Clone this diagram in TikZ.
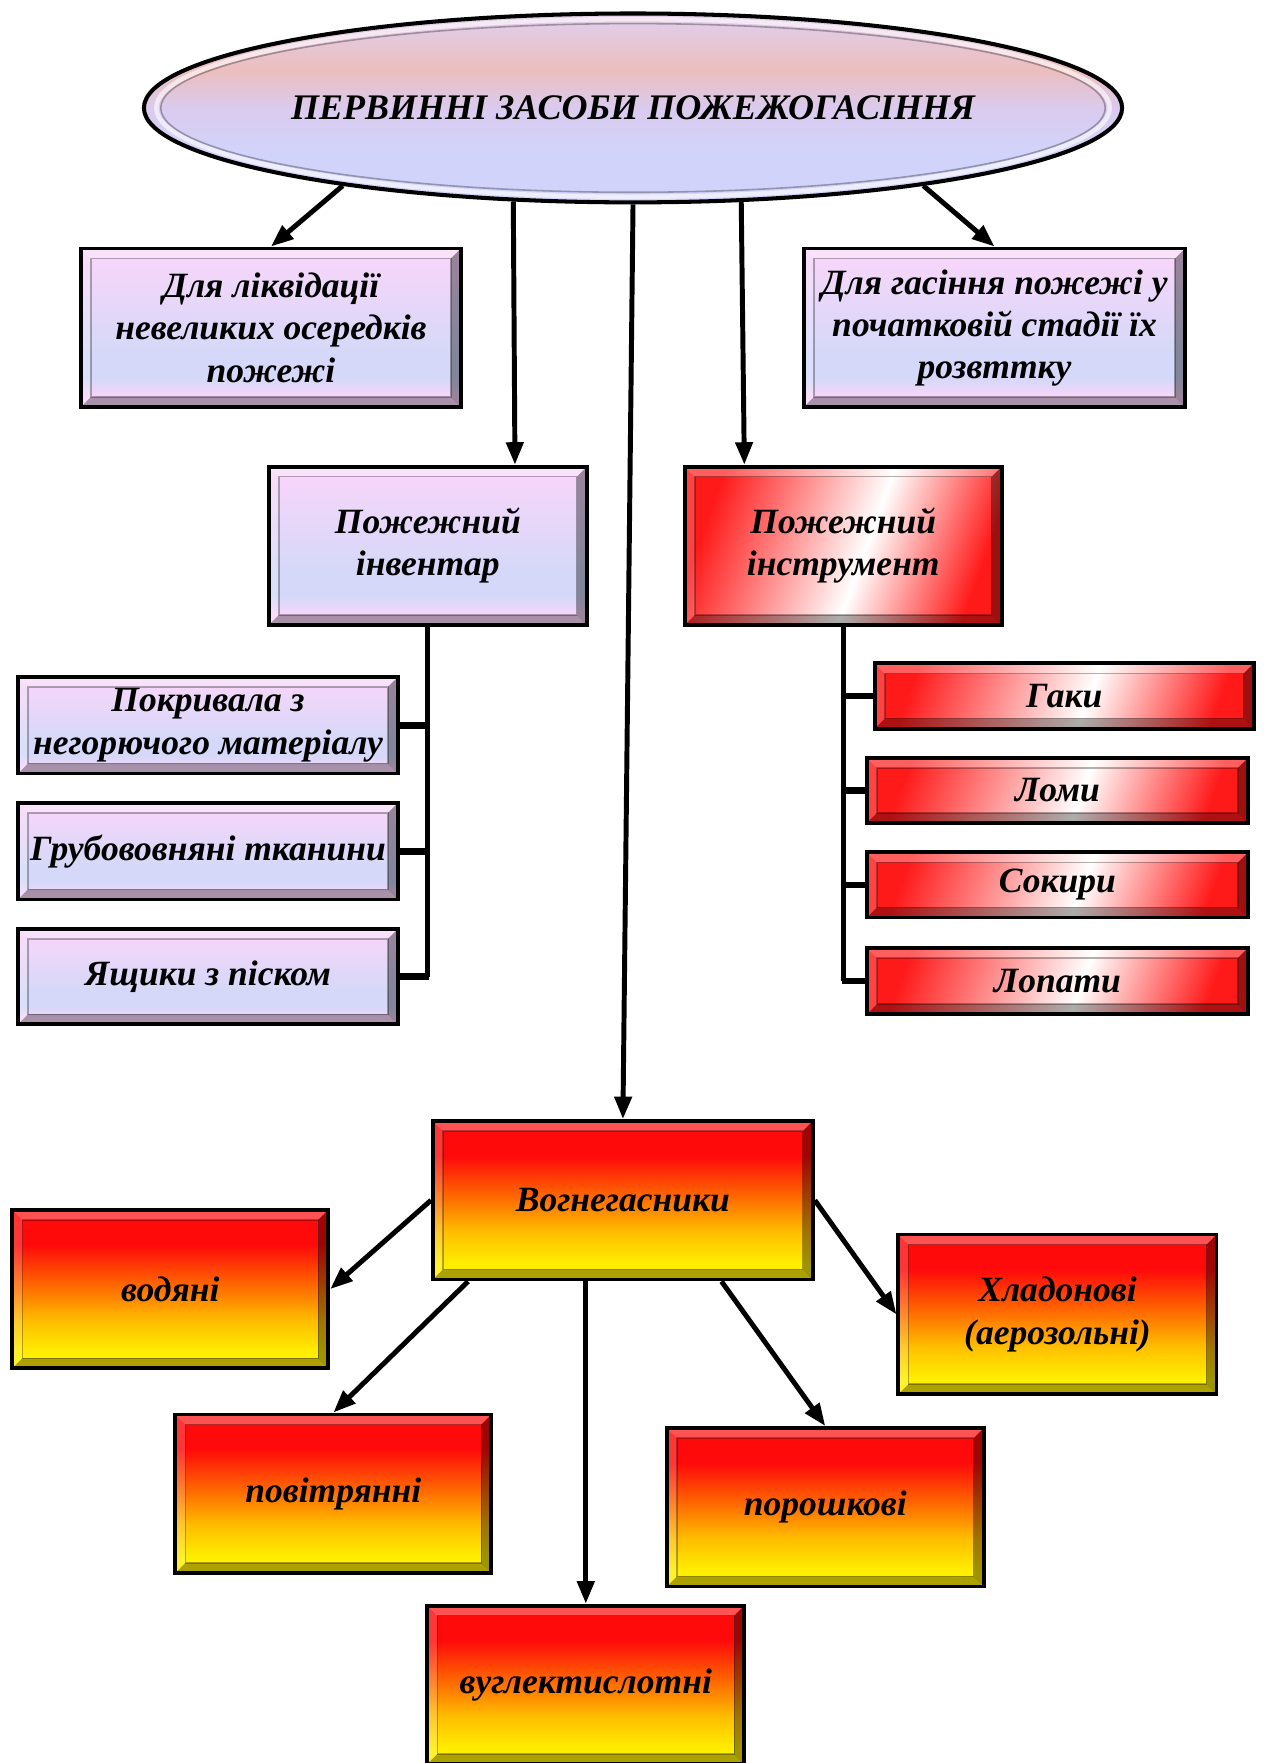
\documentclass[tikz,border=0pt]{standalone}
\usepackage{fontspec}
\setmainfont{Liberation Serif}
\usetikzlibrary{arrows.meta,calc,shapes.geometric}

\definecolor{pinkB}{HTML}{FAD6FA}
\definecolor{lavB}{HTML}{D5D8F8}
\definecolor{fireY}{HTML}{FFEE00}
\definecolor{fireYO}{HTML}{FFBE00}
\definecolor{fireO}{HTML}{FF6A00}
\definecolor{fireR}{HTML}{FF0A0A}
\definecolor{rwR}{HTML}{FF1A1A}
\definecolor{ellTop}{HTML}{E2CCE6}
\definecolor{ellSal}{HTML}{ECBEBE}
\definecolor{ellMid}{HTML}{DACBEE}
\definecolor{ellLav}{HTML}{D2D3FA}

\pgfdeclareverticalshading{lavsh}{100bp}{color(0bp)=(pinkB); color(28bp)=(pinkB); color(34bp)=(lavB); color(42bp)=(lavB); color(75bp)=(pinkB); color(100bp)=(pinkB)}
\pgfdeclareverticalshading{firesh}{100bp}{color(0bp)=(fireY); color(30bp)=(fireY); color(40bp)=(fireYO); color(51bp)=(fireO); color(64bp)=(fireR); color(100bp)=(fireR)}
\pgfdeclarehorizontalshading{rwsh}{100bp}{color(0bp)=(rwR); color(25bp)=(rwR); color(54bp)=(white); color(75bp)=(rwR); color(100bp)=(rwR)}
\pgfdeclareverticalshading{ellsh}{100bp}{color(0bp)=(ellLav); color(38bp)=(ellLav); color(50bp)=(ellMid); color(60bp)=(ellSal); color(72bp)=(ellTop); color(100bp)=(ellTop)}

\tikzset{
  txt/.style={font=\bfseries\itshape\fontsize{15.8}{18.75}\selectfont, align=center, text=black},
  sz/.style 2 args={minimum width=#1*0.5pt, minimum height=#2*0.5pt},
  bevelbox/.style={rectangle, draw=black, line width=1.7pt, inner sep=0pt, txt,
    path picture={
      \fill[white,opacity=0.3] (path picture bounding box.north west) -- (path picture bounding box.north east)
        -- ($(path picture bounding box.north east)+(-4.5pt,-4.5pt)$) -- ($(path picture bounding box.north west)+(4.5pt,-4.5pt)$) -- cycle;
      \fill[white,opacity=0.18] (path picture bounding box.north west) -- (path picture bounding box.south west)
        -- ($(path picture bounding box.south west)+(4.5pt,4.5pt)$) -- ($(path picture bounding box.north west)+(4.5pt,-4.5pt)$) -- cycle;
      \fill[black,opacity=0.38] (path picture bounding box.north east) -- (path picture bounding box.south east)
        -- ($(path picture bounding box.south east)+(-4.5pt,4.5pt)$) -- ($(path picture bounding box.north east)+(-4.5pt,-4.5pt)$) -- cycle;
      \fill[black,opacity=0.32] (path picture bounding box.south west) -- (path picture bounding box.south east)
        -- ($(path picture bounding box.south east)+(-4.5pt,4.5pt)$) -- ($(path picture bounding box.south west)+(4.5pt,4.5pt)$) -- cycle;
      \draw[black,opacity=0.3,line width=0.6pt] ($(path picture bounding box.north west)+(4.5pt,-4.5pt)$) rectangle ($(path picture bounding box.south east)+(-4.5pt,4.5pt)$);
    }},
  lavbox/.style={bevelbox, shading=lavsh},
  firebox/.style={bevelbox, shading=firesh},
  rwbox/.style={bevelbox, shading=rwsh, shading angle=-20},
  arr/.style={line width=2.2pt, -{Triangle[length=10pt,width=7.5pt]}},
  bus/.style={line width=2.2pt},
  tick/.style={line width=3pt},
}

\begin{document}
\begin{tikzpicture}[x=0.5pt,y=-0.5pt]
\useasboundingbox (0,0) rectangle (1124,1568);

% title ellipse
\node[ellipse, draw=black, line width=1.8pt, shading=ellsh, sz={870}{168}, inner sep=0pt, txt,
      font=\bfseries\itshape\fontsize{16}{20}\selectfont] (title) at (563,96) {ПЕРВИННІ ЗАСОБИ ПОЖЕЖОГАСІННЯ};
\draw[white,opacity=0.6,line width=2pt] (title.center) ellipse [x radius=212pt, y radius=39.5pt];
\draw[black,opacity=0.3,line width=0.7pt] (title.center) ellipse [x radius=210pt, y radius=37.5pt];

% level 1
\node[lavbox, sz={338}{141}] (A) at (241,291.5) {Для ліквідації\\невеликих осередків\\пожежі};
\node[lavbox, sz={339}{141}] (B) at (884.5,291.5) {Для гасіння пожежі у\\початковій стадії їх\\розвттку};
\node[lavbox, sz={283}{141}] (C) at (380.5,485.5) {Пожежний\\інвентар};
\node[rwbox, sz={282}{141}] (D) at (750,485.5) {Пожежний\\інструмент};

% inventory items
\node[lavbox, sz={338}{86}] (L1) at (185,645) {Покривала з\\негорючого матеріалу};
\node[lavbox, sz={338}{86}] (L2) at (185,757) {Грубововняні тканини};
\node[lavbox, sz={338}{85}] (L3) at (185,868.5) {Ящики з піском};

% instrument items
\node[rwbox, sz={337}{58}] (R1) at (946.5,619) {Гаки};
\node[rwbox, sz={339}{58}] (R2) at (940.5,703) {Ломи};
\node[rwbox, sz={339}{58}] (R3) at (940.5,787) {Сокири};
\node[rwbox, sz={339}{59}] (R4) at (940.5,872.5) {Лопати};

% extinguishers
\node[firebox, sz={338}{141}] (F) at (554,1067.5) {Вогнегасники};
\node[firebox, sz={281}{141}] (W) at (151.5,1146.5) {водяні};
\node[firebox, sz={283}{142}] (X) at (940.5,1169) {Хладонові\\(аерозольні)};
\node[firebox, sz={281}{141}] (P) at (296.5,1328.5) {повітрянні};
\node[firebox, sz={282}{141}] (Q) at (734,1340.5) {порошкові};
\node[firebox, sz={282}{141}] (V) at (521,1498.5) {вуглектислотні};

% arrows from title
\draw[arr] (title.-165.2) -- (A.north);
\draw[arr] (title.-142.2) -- ($(C.north)+(77.5,0)$);
\draw[arr] (title.south) -- (F.north);
\draw[arr] (title.-41.1) -- ($(D.north)+(-88,0)$);
\draw[arr] (title.-15.6) -- (B.north);

% left bus
\draw[bus] (C.south) -- (C.south |- L3.east);
\draw[tick] (C.south |- L1.east) -- (L1.east);
\draw[tick] (C.south |- L2.east) -- (L2.east);
\draw[tick] ($(C.south |- L3.east)+(0.8,0)$) -- (L3.east);

% right bus
\draw[bus] (D.south) -- (D.south |- R4.west);
\draw[tick] (D.south |- R1.west) -- (R1.west);
\draw[tick] (D.south |- R2.west) -- (R2.west);
\draw[tick] (D.south |- R3.west) -- (R3.west);
\draw[tick] ($(D.south |- R4.west)+(-0.8,0)$) -- (R4.west);

% arrows from extinguishers
\draw[arr] (F.west) -- (W.east);
\draw[arr] ($(F.south west)+(33,0)$) -- (P.north);
\draw[arr] (V.north |- F.south) -- (V.north);
\draw[arr] ($(F.south east)+(-83,0)$) -- (Q.north);
\draw[arr] (F.east) -- (X.west);
\end{tikzpicture}
\end{document}
